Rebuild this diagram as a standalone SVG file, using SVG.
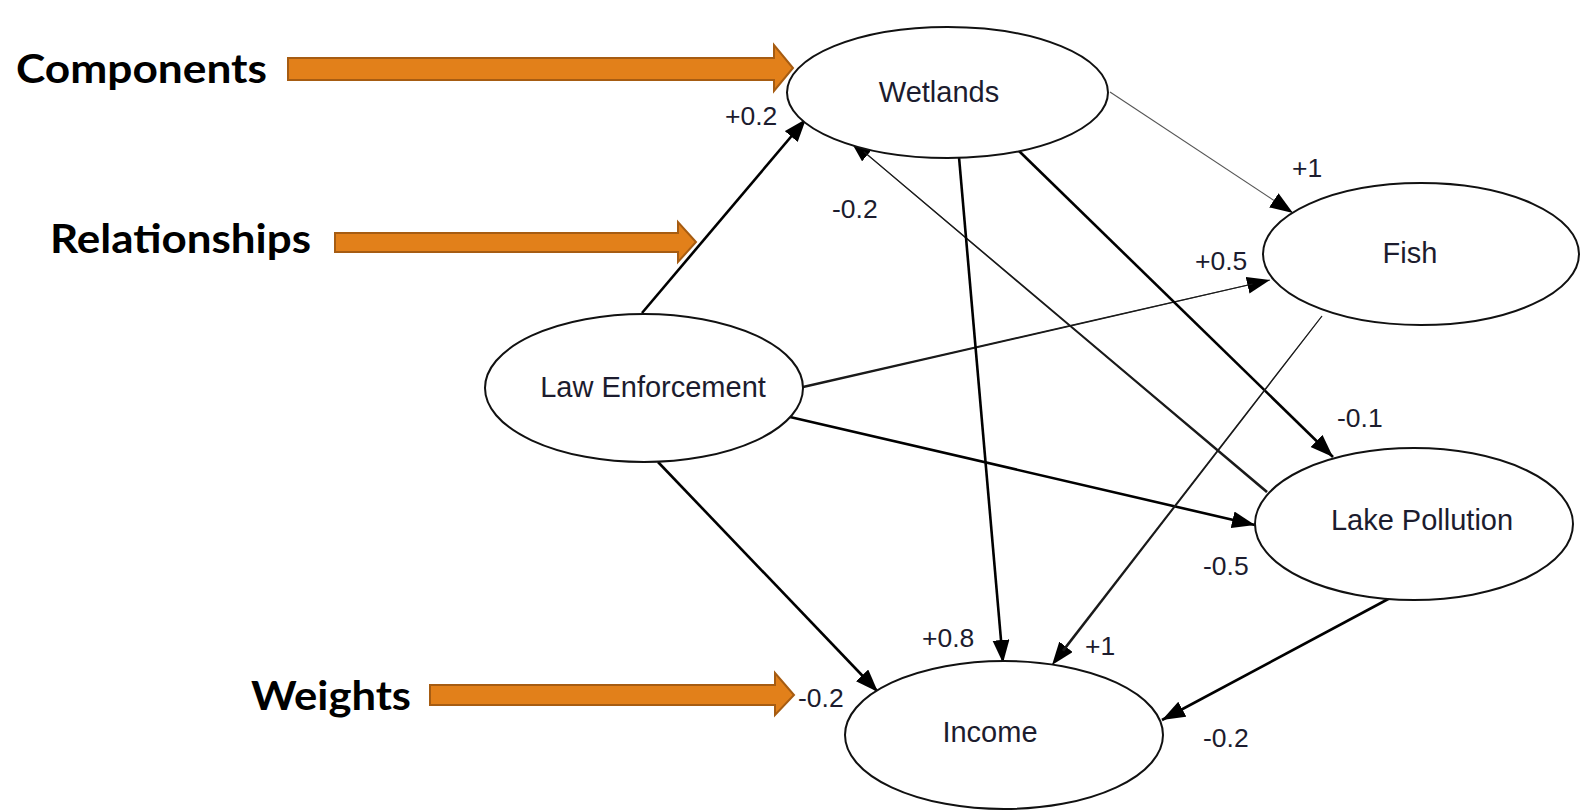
<svg xmlns="http://www.w3.org/2000/svg" width="1585" height="810" viewBox="0 0 1585 810">
  <defs>
    <marker id="head" markerUnits="userSpaceOnUse" markerWidth="24" markerHeight="18" refX="23" refY="8.5" orient="auto">
      <path d="M0,0 L23,8.5 L0,17 z" fill="#000"/>
    </marker>
    <style>
      .node ellipse { fill: #fff; stroke: #111; stroke-width: 2; }
      .node text { font-family: "Liberation Sans", Arial, sans-serif; font-size: 29px; fill: #1c1c2e; text-anchor: middle; }
      .w { font-family: "Liberation Sans", Arial, sans-serif; font-size: 26.5px; fill: #1c1c2e; }
      .edge { stroke: #000; stroke-width: 2.6; fill: none; }
      .thin { stroke: #555; stroke-width: 1.1; fill: none; }
      .taper { fill: #1a1a1a; stroke: none; }
      .call { fill: #E2801A; stroke: #A65C12; stroke-width: 2; }
      .callout text { font-family: Lato, "Open Sans", sans-serif; font-weight: 700; font-size: 40px; fill: #000; }
    </style>
  </defs>
  <rect width="1585" height="810" fill="#fff"/>

  <!-- connectors -->
  <g id="connectors">
    <!-- Law Enforcement -> Wetlands -->
    <line class="edge" x1="642" y1="313" x2="806" y2="119" marker-end="url(#head)"/>
    <!-- Wetlands -> Fish -->
    <line class="thin" x1="1110" y1="92" x2="1293" y2="213" marker-end="url(#head)"/>
    <!-- Law Enforcement -> Fish (tapering stroke) -->
    <line class="thin" x1="803" y1="387" x2="1270" y2="280" marker-end="url(#head)"/>
    <polygon class="taper" points="803.29,388.27 1252.61,284.49 1252.39,283.51 802.71,385.73"/>
    <!-- Lake Pollution -> Wetlands (tapering stroke) -->
    <line class="thin" x1="1267" y1="492" x2="850" y2="140" marker-end="url(#head)"/>
    <polygon class="taper" points="1267.90,490.93 864.09,151.23 863.44,152.00 1266.10,493.07"/>
    <!-- Wetlands -> Lake Pollution -->
    <line class="edge" x1="1019" y1="151" x2="1333" y2="457" stroke-width="2" marker-end="url(#head)"/>
    <!-- Law Enforcement -> Lake Pollution -->
    <line class="edge" x1="790" y1="417" x2="1255" y2="525" marker-end="url(#head)"/>
    <!-- Law Enforcement -> Income -->
    <line class="edge" x1="658" y1="462" x2="878" y2="692" marker-end="url(#head)"/>
    <!-- Wetlands -> Income -->
    <line class="edge" x1="959" y1="157" x2="1003" y2="663" marker-end="url(#head)"/>
    <!-- Fish -> Income (tapering stroke) -->
    <line class="thin" x1="1322" y1="316" x2="1052" y2="665" marker-end="url(#head)"/>
    <polygon class="taper" points="1322.40,316.31 1064.13,651.62 1061.91,649.90 1321.60,315.69"/>
    <!-- Lake Pollution -> Income -->
    <line class="edge" x1="1392" y1="597" x2="1162" y2="720" marker-end="url(#head)"/>

    <!-- weights -->
    <text class="w" x="725" y="125">+0.2</text>
    <text class="w" x="832" y="218">-0.2</text>
    <text class="w" x="1292" y="177">+1</text>
    <text class="w" x="1195" y="270">+0.5</text>
    <text class="w" x="1337" y="427">-0.1</text>
    <text class="w" x="1203" y="575">-0.5</text>
    <text class="w" x="922" y="647">+0.8</text>
    <text class="w" x="1085" y="655">+1</text>
    <text class="w" x="798" y="707">-0.2</text>
    <text class="w" x="1203" y="747">-0.2</text>
  </g>

  <g id="wetlands" class="node">
    <ellipse cx="947.5" cy="92.5" rx="160.5" ry="65.5"/>
    <text x="939" y="102">Wetlands</text>
  </g>
  <g id="fish" class="node">
    <ellipse cx="1421" cy="254" rx="158" ry="71"/>
    <text x="1410" y="263">Fish</text>
  </g>
  <g id="law-enforcement" class="node">
    <ellipse cx="644" cy="388" rx="159" ry="74"/>
    <text x="653" y="397">Law Enforcement</text>
  </g>
  <g id="lake-pollution" class="node">
    <ellipse cx="1414" cy="524" rx="159" ry="76"/>
    <text x="1422" y="530">Lake Pollution</text>
  </g>
  <g id="income" class="node">
    <ellipse cx="1004" cy="735" rx="159" ry="74"/>
    <text x="990" y="742">Income</text>
  </g>

  <!-- annotation callouts -->
  <g id="callout-components" class="callout">
    <text x="16" y="83" textLength="251" lengthAdjust="spacingAndGlyphs">Components</text>
    <polygon class="call" points="288,58 774,58 774,45 793,68 774,91 774,80 288,80"/>
  </g>
  <g id="callout-relationships" class="callout">
    <text x="50" y="253" textLength="261" lengthAdjust="spacingAndGlyphs">Relationships</text>
    <polygon class="call" points="335,233 678,233 678,222 696,242 678,262 678,252 335,252"/>
  </g>
  <g id="callout-weights" class="callout">
    <text x="251" y="710" textLength="160" lengthAdjust="spacingAndGlyphs">Weights</text>
    <polygon class="call" points="430,685 775,685 775,673 794,695 775,715 775,705 430,705"/>
  </g>
</svg>
